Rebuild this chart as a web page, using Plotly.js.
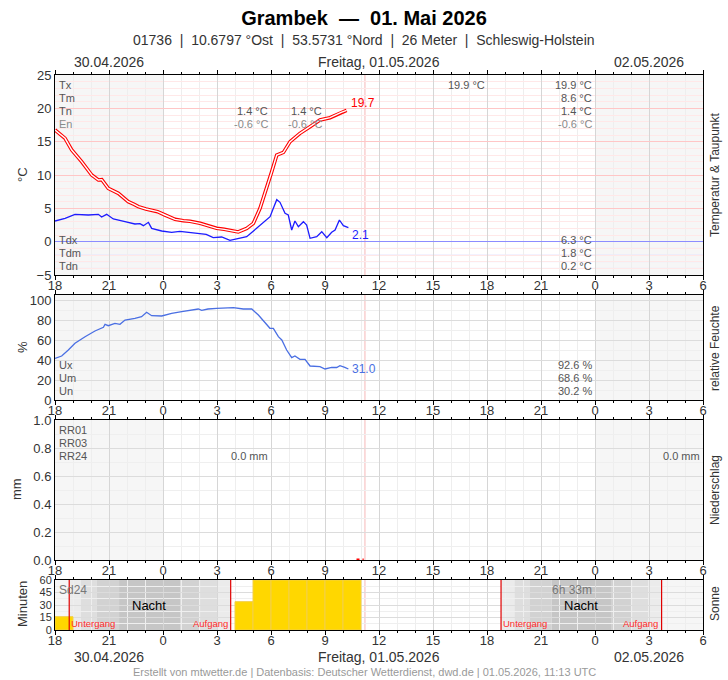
<!DOCTYPE html>
<html><head><meta charset="utf-8">
<script src="https://cdn.plot.ly/plotly-3.0.1.min.js"></script>
<style>html,body{margin:0;padding:0;background:#fff}#chart{width:728px;height:680px}</style>
</head><body><div id="chart"></div>
<script>
// Hours relative to 01.05.2026 00:00 UTC (axis runs 30.04. 18 h to 02.05. 6 h)
const tempHours = [-6,-5.8,-5.44,-5.07,-4.52,-3.96,-3.59,-3.4,-3.04,-2.48,-2.2,-1.93,-1.6,-1.37,-0.95,-0.63,-0.3,0.11,0.67,1.13,1.5,2.06,2.5,2.98,3.4,3.72,4.18,4.65,5.02,5.39,5.76,6.04,6.32,6.69,7.06,7.61,8.17,8.72,9.28,9.65,9.9,10.2];
const tempValues = [16.75,16.3,15.5,13.75,12.0,10.0,9.25,9.3,8.0,7.25,6.6,6.0,5.6,5.25,4.9,4.65,4.5,4.0,3.35,3.15,3.05,2.75,2.4,2.0,1.85,1.65,1.45,2.0,2.75,5.0,8.0,10.5,13.0,13.4,15.0,16.25,17.25,18.25,18.6,19.1,19.4,19.7];
const dewHours = [-6,-5.44,-4.89,-4.5,-4.15,-3.59,-3.41,-3.13,-2.76,-2.11,-1.56,-1.28,-1.09,-0.81,-0.63,-0.07,0.48,0.94,1.87,2.4,2.79,3.26,3.72,4.2,4.65,5.2,5.95,6.13,6.32,6.5,6.78,6.96,7.15,7.33,7.52,7.8,7.98,8.17,8.54,8.82,9.1,9.37,9.56,9.8,10.02,10.3];
const dewValues = [3.1,3.5,4.1,4.0,4.0,4.1,3.7,4.1,3.4,3.0,2.65,2.7,2.4,2.9,2.0,1.6,1.4,1.55,1.25,1.1,0.6,0.7,0.2,0.5,0.75,2.0,3.75,5.0,6.3,5.9,4.25,4.0,1.75,3.1,2.25,3.0,2.5,0.5,0.75,1.5,0.6,1.4,1.75,3.25,2.4,2.1];
const humHours = [-6,-5.63,-5.26,-4.89,-4.33,-3.78,-3.31,-3.22,-3.04,-2.67,-2.39,-2.11,-1.56,-1.19,-0.91,-0.63,-0.07,0.48,1.04,1.59,1.96,2.15,2.5,2.98,3.5,3.91,4.46,4.93,5.3,5.67,5.94,6.13,6.41,6.6,6.87,7.15,7.33,7.61,7.89,8.17,8.72,9.0,9.37,9.65,9.83,10.1,10.3];
const humValues = [41.5,44,50,56.7,63.3,69,72.7,75.7,74.3,76.7,75.7,80,81.7,83.3,87.7,84.3,84,86.7,88.3,89.7,91,89.7,91,91.7,92,92.3,91,91,85,76.7,71.7,71.7,63.3,60,50,42.3,44,40.7,40.7,34,33.3,31,32.7,32.5,34.3,32.7,31.0];
const precipHours = [10.75, 11.15];
const precipValues = [0, 0];
const sunHours = [-6, 4, 5, 6, 7, 8, 9, 10];
const sunMinutes = [16, 34, 60, 60, 60, 60, 60, 60];
// Twilight band edges (hours): sunset, civil, nautical, astronomical ... sunrise
const night1 = [-5.21, -4.56, -3.67, -2.44, 0.96, 2.06, 3.0, 3.76];
const night2 = [18.78, 19.52, 20.39, 21.59, 24.89, 26.09, 26.96, 27.7];
const nowHour = 11.22;
const tickVals = [-6,-3,0,3,6,9,12,15,18,21,24,27,30];
const tickLabels = ['18','21','0','3','6','9','12','15','18','21','0','3','6'];

const W=728,H=680,L=55,R=25,T=75,B=50;
const pw=W-L-R, ph=H-T-B;
const FONT='"Liberation Sans", Arial, sans-serif';
function dom(top,bottom){return [(H-B-bottom)/ph,(H-B-top)/ph];}
function px(x){return (x-L)/pw;}
function py(y){return (H-B-y)/ph;}
function A(text,x,y,o){o=o||{};return {text:text,xref:'paper',yref:'paper',x:px(x),y:py(y),showarrow:false,
  xanchor:o.xa||'left',yanchor:'middle',textangle:o.angle||0,borderpad:0,borderwidth:0,
  font:{family:FONT,size:o.size||11,color:o.color||'#555',weight:o.weight||'normal'}};}

function xax(anchor){return {domain:[0,1],anchor:anchor,range:[-6,30],tickmode:'array',tickvals:tickVals,ticktext:tickLabels,
  ticks:'outside',ticklen:4,tickcolor:'#000',showgrid:true,gridcolor:'#d6d6d6',gridwidth:1,zeroline:false,ticklabelstandoff:-6,
  minor:{tickmode:'linear',tick0:0,dtick:1,ticks:'outside',ticklen:2,tickcolor:'#000',showgrid:true,gridcolor:'#eeeeee'},
  showline:true,linecolor:'#000',linewidth:1,mirror:'ticks',tickfont:{family:FONT,size:13,color:'#333'},fixedrange:true};}
function yax(domain,range,dtick,minor,grid,extra){return Object.assign({domain:domain,anchor:'x'+(extra&&extra.n||''),range:range,dtick:dtick,tick0:0,
  ticks:'',showgrid:true,gridcolor:grid,zeroline:false,showline:true,linecolor:'#000',linewidth:1,mirror:true,
  minor:{tickmode:'linear',tick0:0,dtick:minor,showgrid:true,gridcolor:extra&&extra.mg||'#efefef'},
  tickfont:{family:FONT,size:13,color:'#333'},fixedrange:true},extra&&extra.o||{});}

const traces=[
 {x:tempHours,y:tempValues,xaxis:'x',yaxis:'y',mode:'lines',line:{color:'#ff0000',width:3.6},hoverinfo:'skip'},
 {x:tempHours,y:tempValues,xaxis:'x',yaxis:'y',mode:'lines',line:{color:'#ffffff',width:1.4},hoverinfo:'skip'},
 {x:dewHours,y:dewValues,xaxis:'x',yaxis:'y',mode:'lines',line:{color:'#1c1cff',width:1.3},hoverinfo:'skip'},
 {x:humHours,y:humValues,xaxis:'x2',yaxis:'y2',mode:'lines',line:{color:'#4a6fe3',width:1.3},hoverinfo:'skip'},
 {x:precipHours,y:precipValues,xaxis:'x3',yaxis:'y3',mode:'lines',line:{color:'#ff0000',width:3,dash:'dot'},cliponaxis:false,hoverinfo:'skip'},
 {x:sunHours.map(h=>h+0.5),y:sunMinutes,width:sunHours.map(()=>1),type:'bar',xaxis:'x4',yaxis:'y4',
  marker:{color:'#ffd700',line:{color:'#f2cf4a',width:1}},hoverinfo:'skip'}
];

const shapes=[];
['','2','3','4'].forEach(n=>{
  [[-6,0],[24,30]].forEach(r=>shapes.push({type:'rect',xref:'x'+n,yref:'y'+n+' domain',x0:r[0],x1:r[1],y0:0,y1:1,fillcolor:'#f6f6f6',line:{width:0},layer:'below'}));
  shapes.push({type:'line',xref:'x'+n,yref:'y'+n+' domain',x0:nowHour,x1:nowHour,y0:0,y1:1,line:{color:'#f6b8b8',width:1},layer:'below'});
});
const shades=['#ebebeb','#dedede','#d2d2d2','#c6c6c6','#d2d2d2','#dedede','#ebebeb'];
[night1,night2].forEach(nb=>{
  for(let i=0;i<nb.length-1;i++) shapes.push({type:'rect',xref:'x4',yref:'y4 domain',x0:nb[i],x1:nb[i+1],y0:0,y1:1,fillcolor:shades[i],line:{width:0},layer:'below'});
  [nb[0],nb[nb.length-1]].forEach(v=>shapes.push({type:'line',xref:'x4',yref:'y4 domain',x0:v,x1:v,y0:0,y1:1,line:{color:'#e00000',width:1.2},layer:'above'}));
});
[-1,-2,-3,-4].forEach(v=>shapes.push({type:'line',xref:'x domain',yref:'y',x0:0,x1:1,y0:v,y1:v,line:{color:'#e4e4ff',width:1},layer:'below'}));

const lg='#8a8a8a';
const ann=[
 A('Temperatur & Taupunkt',715,175,{angle:-90,xa:'center',size:12,color:'#333'}),
 A('relative Feuchte',715,348,{angle:-90,xa:'center',size:12,color:'#333'}),
 A('Niederschlag',715,490,{angle:-90,xa:'center',size:12,color:'#333'}),
 A('Sonne',715,604,{angle:-90,xa:'center',size:12,color:'#333'}),
 A('°C',22,175,{angle:-90,xa:'center',size:13,color:'#333'}),
 A('%',22,347,{angle:-90,xa:'center',size:13,color:'#333'}),
 A('mm',17,489,{angle:-90,xa:'center',size:13,color:'#333'}),
 A('Minuten',22,604,{angle:-90,xa:'center',size:13,color:'#333'}),
 A('01736  |  10.6797 °Ost  |  53.5731 °Nord  |  26 Meter  |  Schleswig-Holstein',364,40,{xa:'center',size:14,color:'#333'}),
 A('30.04.2026',109,62,{xa:'center',size:14,color:'#333'}),
 A('Freitag, 01.05.2026',379,62,{xa:'center',size:14,color:'#333'}),
 A('02.05.2026',649,62,{xa:'center',size:14,color:'#333'}),
 A('30.04.2026',109,657,{xa:'center',size:14,color:'#333'}),
 A('Freitag, 01.05.2026',379,657,{xa:'center',size:14,color:'#333'}),
 A('02.05.2026',649,657,{xa:'center',size:14,color:'#333'}),
 A('Erstellt von mtwetter.de | Datenbasis: Deutscher Wetterdienst, dwd.de | 01.05.2026, 11:13 UTC',364,672,{xa:'center',size:11,color:'#999'}),
 A('Tx',59,85),A('Tm',59,98),A('Tn',59,111),A('En',59,124,{color:lg}),
 A('1.4 °C',268,111,{xa:'right'}),A('-0.6 °C',268,124,{xa:'right',color:lg}),
 A('1.4 °C',322,111,{xa:'right'}),A('-0.6 °C',322,124,{xa:'right',color:lg}),
 A('19.9 °C',485,85,{xa:'right'}),
 A('19.9 °C',592,85,{xa:'right'}),A('8.6 °C',592,98,{xa:'right'}),A('1.4 °C',592,111,{xa:'right'}),A('-0.6 °C',592,124,{xa:'right',color:lg}),
 A('Tdx',59,240),A('Tdm',59,253),A('Tdn',59,266),
 A('6.3 °C',592,240,{xa:'right'}),A('1.8 °C',592,253,{xa:'right'}),A('0.2 °C',592,266,{xa:'right'}),
 A('Ux',59,365),A('Um',59,378),A('Un',59,391),
 A('92.6 %',592,365,{xa:'right'}),A('68.6 %',592,378,{xa:'right'}),A('30.2 %',592,391,{xa:'right'}),
 A('RR01',59,430),A('RR03',59,443),A('RR24',59,456),
 A('0.0 mm',268,456,{xa:'right'}),A('0.0 mm',700,456,{xa:'right'}),
 A('Sd24',59,590,{color:'#777',size:12}),A('6h 33m',592,590,{xa:'right',color:'#777',size:12}),
 A('Nacht',149,605,{xa:'center',color:'#000',size:13}),A('Nacht',581,605,{xa:'center',color:'#000',size:13}),
 A('Untergang',71,623,{color:'#ff2a2a',size:9.5}),A('Aufgang',228,623,{xa:'right',color:'#ff2a2a',size:9.5}),
 A('Untergang',503,623,{color:'#ff2a2a',size:9.5}),A('Aufgang',658,623,{xa:'right',color:'#ff2a2a',size:9.5}),
 {text:tempValues[tempValues.length-1].toFixed(1),xref:'x',yref:'y',x:tempHours[tempHours.length-1],y:tempValues[tempValues.length-1],
  xanchor:'left',yanchor:'middle',xshift:2,yshift:7,showarrow:false,font:{family:FONT,size:12,color:'#ff0000'}},
 {text:dewValues[dewValues.length-1].toFixed(1),xref:'x',yref:'y',x:dewHours[dewHours.length-1],y:dewValues[dewValues.length-1],
  xanchor:'left',yanchor:'middle',xshift:2,yshift:-7,showarrow:false,font:{family:FONT,size:12,color:'#1c1cff'}},
 {text:humValues[humValues.length-1].toFixed(1),xref:'x2',yref:'y2',x:humHours[humHours.length-1],y:humValues[humValues.length-1],
  xanchor:'left',yanchor:'middle',xshift:2,yshift:0,showarrow:false,font:{family:FONT,size:12,color:'#4a6fe3'}}
];

const layout={width:W,height:H,margin:{l:L,r:R,t:T,b:B},paper_bgcolor:'#fff',plot_bgcolor:'#fff',showlegend:false,
 font:{family:FONT,color:'#333'},bargap:0,
 title:{text:'<b>Grambek  —  01. Mai 2026</b>',x:0.5,xanchor:'center',xref:'container',yref:'container',y:1-18/H,yanchor:'middle',font:{family:FONT,size:20,color:'#000'}},
 xaxis:xax('y'),xaxis2:xax('y2'),xaxis3:xax('y3'),xaxis4:xax('y4'),
 yaxis:yax(dom(75,275),[-5,25],5,1,'#ffc6c6',{n:'',mg:'#ffe8e8',o:{zeroline:true,zerolinecolor:'#8c8cff',zerolinewidth:1}}),
 yaxis2:yax(dom(295,400),[0,105],20,10,'#dcdcdc',{n:'2'}),
 yaxis3:yax(dom(420,560),[0,1],0.2,0.1,'#dcdcdc',{n:'3',o:{tickformat:'.1f'}}),
 yaxis4:yax(dom(580,630),[0,60],15,7.5,'#dcdcdc',{n:'4',o:{tickfont:{family:FONT,size:11,color:'#333'}}}),
 shapes:shapes,annotations:ann};
Plotly.newPlot('chart',traces,layout,{staticPlot:true,displayModeBar:false});
</script></body></html>
